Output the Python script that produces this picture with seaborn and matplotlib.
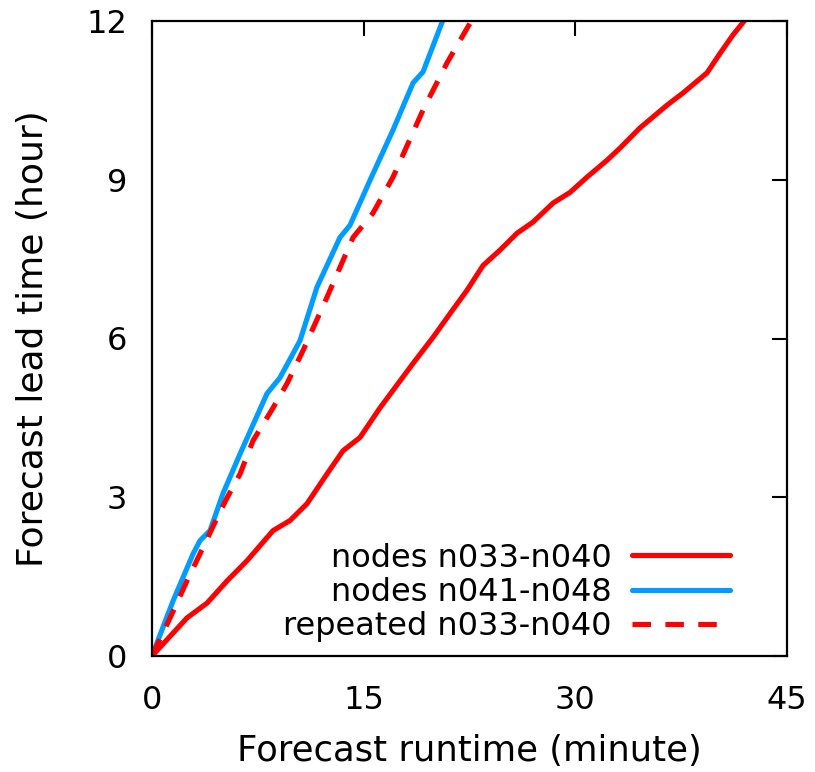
import matplotlib
matplotlib.use("Agg")
import matplotlib.pyplot as plt
import seaborn as sns

# ---- data ----
red_x = [0, 2.48, 3.90, 5.32, 6.73, 8.58, 9.78, 10.99, 12.40, 13.54, 14.74, 16.16, 17.08,
         18.50, 19.91, 21.12, 22.32, 23.46, 24.66, 25.87, 27.00, 28.42, 29.62, 30.83,
         32.25, 33.17, 34.58, 36.50, 37.63, 39.33, 40.26, 41.18, 42.03]
red_y = [0, 0.72, 1.00, 1.42, 1.80, 2.37, 2.56, 2.88, 3.44, 3.88, 4.13, 4.69, 5.02,
         5.53, 6.02, 6.47, 6.91, 7.38, 7.67, 7.99, 8.20, 8.56, 8.76, 9.05,
         9.37, 9.60, 9.98, 10.41, 10.64, 11.02, 11.39, 11.74, 12.02]

blue_x = [0, 1.49, 2.91, 3.40, 4.11, 5.03, 6.24, 8.15, 9.07, 10.49, 11.69, 13.32,
          14.03, 15.45, 17.08, 18.50, 19.21, 20.62]
blue_y = [0, 1.04, 1.93, 2.18, 2.37, 3.07, 3.82, 4.96, 5.26, 5.96, 6.97, 7.91,
          8.14, 8.99, 9.94, 10.83, 11.04, 12.02]

rep_x = [0, 1.28, 2.48, 3.40, 4.61, 5.32, 6.24, 7.16, 8.58, 9.57, 10.70, 12.40,
         14.25, 15.66, 17.08, 19.21, 20.91, 22.54]
rep_y = [0, 0.72, 1.42, 1.93, 2.61, 2.99, 3.44, 4.07, 4.69, 5.15, 5.77, 6.78,
         7.91, 8.37, 9.05, 10.32, 11.21, 11.96]

labels = ["nodes n033-n040", "nodes n041-n048", "repeated n033-n040"]
x_ticks = [0, 15, 30, 45]
y_ticks = [0, 3, 6, 9, 12]

sns.set_style("white")
plt.rcParams['font.family'] = ['DejaVu Sans']
plt.rcParams['text.color'] = 'black'
plt.rcParams['axes.labelcolor'] = 'black'
plt.rcParams['xtick.color'] = 'black'
plt.rcParams['ytick.color'] = 'black'

fig = plt.figure(figsize=(8.15, 7.72), dpi=100)
ax = fig.add_axes([152/815, 1-656/772, (787-152)/815, (656-21)/772])

lw = 3.7
sns.lineplot(x=red_x, y=red_y, ax=ax, color="#ff0000", linewidth=lw,
             sort=False, estimator=None, label=labels[0])
sns.lineplot(x=blue_x, y=blue_y, ax=ax, color="#009cff", linewidth=lw,
             sort=False, estimator=None, label=labels[1])
sns.lineplot(x=rep_x, y=rep_y, ax=ax, color="#ff0000", linewidth=lw,
             linestyle=(0, (3.6, 2.8)), sort=False, estimator=None, label=labels[2])

ax.set_xlim(0, 45)
ax.set_ylim(0, 12)
ax.set_xticks(x_ticks)
ax.set_yticks(y_ticks)
ax.tick_params(direction="in", top=True, right=True, length=11, width=1.5,
               labelsize=23, colors="black", labelcolor="black")
ax.tick_params(axis="x", pad=21)
ax.tick_params(axis="y", pad=18)
for s in ax.spines.values():
    s.set_visible(True)
    s.set_color("black")
    s.set_linewidth(1.6)

ax.set_xlabel("Forecast runtime (minute)", fontsize=25.5, labelpad=13, color="black")
ax.set_ylabel("Forecast lead time (hour)", fontsize=26, labelpad=26, color="black")

leg = ax.legend(loc="lower right", bbox_to_anchor=(0.91, 0.022), frameon=False,
                markerfirst=False, fontsize=23, handlelength=3.05,
                handletextpad=0.66, labelspacing=0.1, borderpad=0,
                borderaxespad=0, labelcolor="black")

fig.savefig("out.png", dpi=100)
